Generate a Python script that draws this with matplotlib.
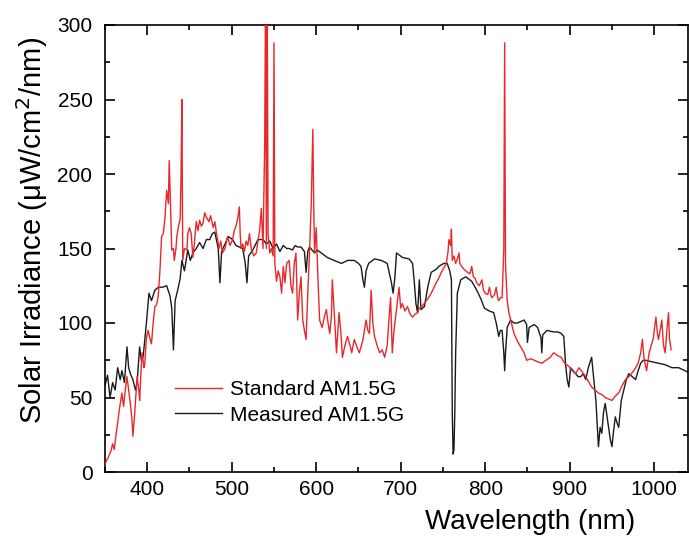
import numpy as np
import matplotlib
matplotlib.use('Agg')
import matplotlib.pyplot as plt

plt.rcParams['font.family'] = ['Liberation Sans', 'DejaVu Sans']

# Measured AM1.5G (black)
wl_meas = [350, 353, 356, 359, 362, 365, 368, 370, 373, 376, 378, 380, 383, 386, 388,
           391, 393, 395, 397, 399, 402, 405, 409, 413, 418, 423, 427, 429, 431, 433,
           436, 439, 441, 444, 448, 451, 454, 458, 462, 466, 470, 474, 477, 480, 484,
           486, 488, 492, 496, 501, 505, 509, 513, 516, 518, 520, 525, 531, 537, 541,
           545, 549, 553, 557, 561, 565, 568, 572, 575, 578, 582, 586, 588, 590, 592,
           598, 601, 606, 613, 621, 630, 637, 645, 650, 653, 655, 657, 659, 662, 669,
           677, 684, 687, 689, 691, 693, 695, 702, 710, 714, 716, 718, 720, 722, 724,
           728, 732, 736, 742, 745, 751, 755, 758, 760, 761, 762, 763, 764, 765, 767,
           771, 777, 784, 790, 795, 799, 805, 810, 813, 816, 818, 820, 822, 823, 824,
           826, 830, 834, 838, 842, 846, 849, 850, 852, 858, 862, 866, 867, 868, 873,
           881, 886, 890, 893, 895, 897, 899, 901, 904, 907, 910, 913, 916, 919, 922,
           926, 928, 931, 934, 936, 938, 940, 942, 944, 946, 948, 950, 952, 954, 956,
           958, 961, 964, 967, 970, 974, 978, 981, 984, 987, 990, 997, 1005, 1013, 1021,
           1029, 1040]
irr_meas = [58, 65, 50, 60, 55, 70, 62, 68, 60, 84, 70, 66, 62, 55, 60,
            84, 75, 77, 88, 100, 120, 115, 122, 124, 124, 125, 118, 110, 82, 115,
            122, 130, 142, 135, 149, 142, 147, 150, 154, 150, 156, 156, 160, 161, 150,
            127, 148, 153, 158, 156, 152, 151, 150, 140, 127, 145, 149, 156, 156, 153,
            155, 150, 153, 148, 152, 150, 150, 149, 152, 151, 151, 148, 134, 148, 151,
            147, 149, 147, 144, 142, 140, 142, 142, 140, 138, 130, 124, 135, 140, 143,
            142, 140, 132, 127, 120, 130, 147, 144, 143, 140, 128, 113, 107, 129, 109,
            111, 124, 134, 136, 138, 140, 140, 135, 129, 40, 12, 15, 40, 80, 120,
            129, 131, 128, 122, 116, 110, 108, 107, 100, 91, 95, 95, 80, 68, 80,
            97, 102, 100, 100, 101, 102, 99, 87, 97, 99, 97, 90, 80, 92, 95,
            94, 94, 93, 91, 73, 62, 57, 70, 68, 66, 64, 64, 66, 62, 70,
            77, 65, 48, 17, 30, 26, 40, 46, 38, 30, 22, 17, 28, 37, 33,
            30, 48, 55, 62, 66, 64, 62, 68, 73, 75, 75, 74, 73, 72, 70,
            70, 67]

# Standard AM1.5G (red)
wl_std = [350, 352, 354, 357, 359, 361, 363, 365, 367, 370, 372, 374, 376, 378, 380,
          382, 383, 385, 388, 390, 391, 393, 394, 396, 397, 399, 401, 403, 405, 407,
          409, 411, 413, 415, 417, 419, 421, 423, 425, 426, 427, 429, 431, 432, 434,
          435, 437, 439, 440, 441, 442, 444, 447, 448, 450, 452, 454, 456, 458, 460,
          462, 464, 466, 468, 470, 473, 475, 478, 480, 482, 485, 487, 489, 492, 495,
          498, 501, 503, 505, 507, 509, 510, 511, 513, 515, 517, 519, 521, 523, 526,
          529, 531, 533, 535, 537, 539, 540, 541, 542, 543, 545, 547, 549, 550, 551,
          553, 555, 557, 559, 561, 563, 565, 568, 570, 572, 574, 576, 578, 580, 582,
          584, 586, 588, 590, 592, 594, 596, 597, 598, 600, 602, 604, 607, 610, 612,
          614, 616, 618, 619, 621, 624, 627, 629, 631, 634, 637, 640, 642, 645, 648,
          651, 655, 659, 661, 663, 665, 667, 669, 672, 675, 678, 681, 684, 686, 688,
          690, 692, 695, 698, 700, 702, 705, 708, 711, 714, 717, 720, 722, 725, 729,
          733, 737, 742, 745, 748, 751, 754, 756, 757, 759, 760, 761, 763, 765, 767,
          769, 770, 772, 775, 779, 782, 784, 786, 788, 790, 793, 796, 798, 800, 803,
          805, 807, 808, 811, 813, 815, 816, 818, 820, 822, 823, 824, 826, 828, 831,
          834, 838, 842, 846, 849, 854, 858, 862, 867, 872, 877, 881, 886, 890, 894,
          899, 903, 907, 911, 915, 919, 923, 926, 930, 934, 938, 942, 946, 950, 954,
          958, 962, 966, 970, 973, 977, 981, 984, 986, 988, 991, 994, 996, 999, 1002,
          1004, 1005, 1007, 1009, 1011, 1013, 1015, 1017, 1018, 1020]
irr_std = [5, 8, 10, 14, 19, 15, 25, 33, 42, 53, 44, 55, 64, 55, 46,
           35, 24, 38, 64, 55, 48, 72, 80, 70, 72, 90, 95, 90, 86, 100,
           111, 112, 118, 135, 158, 160, 171, 189, 180, 209, 190, 149, 150, 142, 150,
           158, 165, 170, 200, 250, 142, 150, 149, 160, 164, 160, 144, 155, 168, 162,
           169, 165, 167, 174, 171, 168, 172, 164, 168, 160, 150, 155, 147, 150, 158,
           152, 156, 162, 165, 170, 178, 160, 150, 153, 148, 155, 152, 160, 150, 145,
           147, 155, 162, 177, 150, 220, 320, 150, 320, 160, 147, 150, 145, 288, 140,
           128, 135, 131, 120, 138, 127, 140, 142, 125, 120, 140, 147, 102, 120, 131,
           102, 95, 89, 120, 147, 178, 230, 180, 147, 164, 130, 102, 97, 105, 109,
           100, 93, 105, 129, 110, 80, 107, 95, 77, 85, 91, 85, 80, 89, 84,
           80, 88, 102, 95, 93, 122, 100, 91, 85, 80, 82, 77, 85, 102, 117,
           80, 95, 109, 124, 110, 113, 108, 111, 106, 104, 106, 107, 110, 111, 114,
           117, 121, 127, 130, 134, 137, 140, 148, 156, 152, 163, 142, 145, 140, 143,
           147, 140, 138, 136, 134, 133, 138, 131, 130, 127, 125, 129, 122, 120, 119,
           124, 118, 117, 119, 124, 116, 115, 117, 117, 150, 288, 140, 115, 107, 100,
           93, 88, 84, 80, 75, 76, 75, 74, 73, 75, 77, 80, 78, 77, 73,
           71, 68, 66, 70, 67, 64, 60, 57, 55, 53, 52, 50, 49, 48, 51,
           53, 58, 62, 64, 66, 69, 73, 80, 89, 76, 68, 80, 84, 90, 104,
           92, 89, 95, 102, 85, 80, 95, 107, 90, 82]

fig = plt.figure(figsize=(6.89, 5.38), dpi=100)
ax = fig.add_axes([105/689, 66/538, 583/689, 447/538])

ax.plot(wl_meas, irr_meas, color='#1a1a1a', lw=1.0, label='Measured AM1.5G', zorder=2)
ax.plot(wl_std, irr_std, color='#e8282a', lw=1.0, label='Standard AM1.5G', zorder=3)

ax.set_xlim(350, 1040)
ax.set_ylim(0, 300)
ax.set_xticks([400, 500, 600, 700, 800, 900, 1000])
ax.set_xticks(np.arange(350, 1040, 50), minor=True)
ax.set_yticks([0, 50, 100, 150, 200, 250, 300])
ax.set_yticks(np.arange(25, 300, 50), minor=True)
ax.tick_params(which='both', direction='in', top=True, right=True, labelsize=15, width=1.2)
ax.tick_params(which='major', length=7)
ax.tick_params(which='minor', length=3.5)
ax.tick_params(axis='y', pad=9)
ax.tick_params(axis='x', pad=6)
for s in ax.spines.values():
    s.set_linewidth(1.2)

ax.set_xlabel('Wavelength (nm)', fontsize=20)
ax.set_ylabel('Solar Irradiance (μW/cm$^2$/nm)', fontsize=21)
ax.xaxis.set_label_coords(0.729, -0.083)
ax.yaxis.set_label_coords(-0.094, 0.541)

h, l = ax.get_legend_handles_labels()
ax.legend([h[1], h[0]], [l[1], l[0]], loc='upper left', bbox_to_anchor=(0.12, 0.205),
          frameon=False, fontsize=15, handlelength=2.25, handletextpad=0.38,
          labelspacing=0.3, borderpad=0, borderaxespad=0)

fig.savefig('out.png', dpi=100)
